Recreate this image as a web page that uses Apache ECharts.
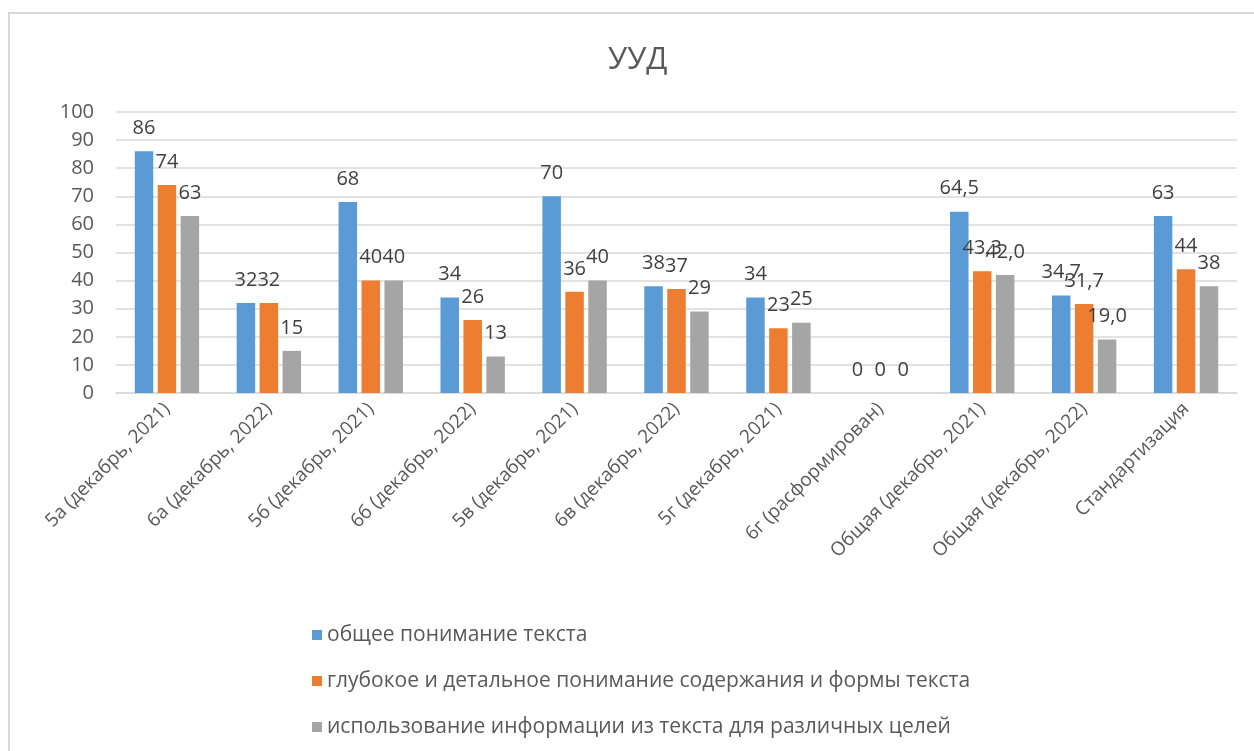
<!DOCTYPE html>
<html>
<head>
<meta charset="utf-8">
<title>УУД</title>
<script src="https://cdn.jsdelivr.net/npm/echarts@6/dist/echarts.min.js"></script>
<style>
    html, body { margin: 0; padding: 0; background: #fff; }
    #chart { width: 1254px; height: 751px; }
</style>
</head>
<body>
<div id="chart"></div>
<script>
;
var categories = ['5а (декабрь, 2021)', '6а (декабрь, 2022)', '5б (декабрь, 2021)', '6б (декабрь, 2022)', '5в (декабрь, 2021)', '6в (декабрь, 2022)', '5г (декабрь, 2021)', '6г (расформирован)', 'Общая (декабрь, 2021)', 'Общая (декабрь, 2022)', 'Стандартизация'];
var seriesNames = ['общее понимание текста', 'глубокое и детальное понимание содержания и формы текста', 'использование информации из текста для различных целей'];
var generalValues = [86, 32, 68, 34, 70, 38, 34, 0, 64.5, 34.7, 63];
var deepValues = [74, 32, 40, 26, 36, 37, 23, 0, 43.3, 31.7, 44];
var usageValues = [63, 15, 40, 13, 40, 29, 25, 0, 42.0, 19.0, 38];
// decimals shown in the data labels of each category
var labelDecimals = [0, 0, 0, 0, 0, 0, 0, 0, 1, 1, 0];
var yTicks = [0, 10, 20, 30, 40, 50, 60, 70, 80, 90, 100];

var uudChart = (function uudChartClosure() {
    'use strict';

    var FONT = '"Open Sans", "Noto Sans", sans-serif';
    var COLORS = ['#5B9BD5', '#ED7D31', '#A5A5A5'];

    function labelText(p) {
        return p.value.toFixed(labelDecimals[p.dataIndex]).replace('.', ',');
    }

    function makeSeries(idx, values) {
        return {
            name: seriesNames[idx],
            type: 'bar',
            data: values,
            barWidth: 18.5,
            barGap: '24%',
            itemStyle: { color: COLORS[idx] },
            label: {
                show: true,
                position: 'top',
                distance: 13,
                color: '#404040',
                fontFamily: FONT,
                fontSize: 20,
                formatter: labelText
            }
        };
    }

    function buildOption() {
        return {
            backgroundColor: '#fff',
            animation: false,
            textStyle: { fontFamily: FONT },
            title: {
                text: 'УУД',
                left: 603,
                top: 40,
                textStyle: { color: '#595959', fontSize: 31, fontWeight: 'normal', fontFamily: FONT }
            },
            graphic: [{
                type: 'rect',
                shape: { x: 9, y: 13, width: 1300, height: 800 },
                style: { fill: 'none', stroke: '#d9d9d9', lineWidth: 2 },
                silent: true
            }],
            grid: { left: 116, right: 17, top: 112, bottom: 358, containLabel: false },
            legend: {
                orient: 'vertical',
                left: 307,
                top: 617,
                itemWidth: 10,
                itemHeight: 10,
                itemGap: 20,
                icon: 'rect',
                data: seriesNames,
                textStyle: { color: '#595959', fontSize: 21, fontFamily: FONT, lineHeight: 26 }
            },
            xAxis: {
                type: 'category',
                data: categories,
                axisLine: { lineStyle: { color: '#d9d9d9', width: 1.5 } },
                axisTick: { show: false },
                axisLabel: {
                    rotate: 45,
                    interval: 0,
                    margin: 13,
                    color: '#595959',
                    fontSize: 19,
                    fontFamily: FONT
                }
            },
            yAxis: {
                type: 'value',
                min: yTicks[0],
                max: yTicks[yTicks.length - 1],
                interval: yTicks[1] - yTicks[0],
                axisLine: { show: false },
                axisTick: { show: false },
                splitLine: { lineStyle: { color: '#d9d9d9', width: 1.5 } },
                axisLabel: { color: '#595959', fontSize: 20, fontFamily: FONT, margin: 22 }
            },
            series: [
                makeSeries(0, generalValues),
                makeSeries(1, deepValues),
                makeSeries(2, usageValues)
            ]
        };
    }

    return {
        _init: function(dom) {
            var chart = echarts.init(dom, null, { renderer: 'canvas' });
            chart.setOption(buildOption());
            return chart;
        }
    };
})();

uudChart._init(document.getElementById('chart'));
</script>
</body>
</html>
